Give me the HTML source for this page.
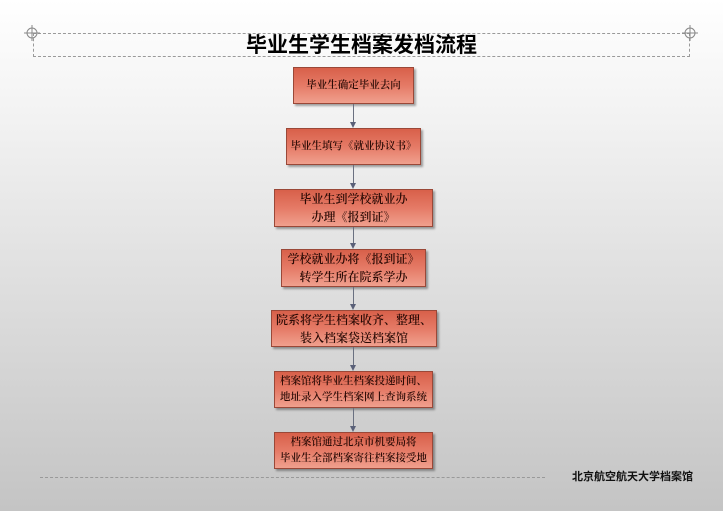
<!DOCTYPE html>
<html><head><meta charset="utf-8"><style>
*{margin:0;padding:0;box-sizing:border-box}
body{width:723px;height:511px;overflow:hidden;position:relative;
background:linear-gradient(to bottom,#ffffff 0%,#f4f4f4 20%,#dcdcdc 60%,#c4c4c4 100%);
font-family:"Liberation Serif","Noto Serif CJK SC","Noto Sans CJK SC",serif}
.b{position:absolute;display:flex;align-items:center;justify-content:center;text-align:center;
color:#2a0a05;line-height:1.5;white-space:nowrap;font-weight:600;
background:linear-gradient(to bottom,#d8604a 0%,#e57a66 50%,#f0a08e 100%);
border:1px solid #9a4838;box-shadow:2px 2px 2px rgba(0,0,0,.35)}
.s{font-size:10.5px}.m{font-size:12px}
.l{position:absolute;left:353px;width:1px;background:#6a7080}
.a{position:absolute;left:350px;width:0;height:0;border-left:3.5px solid transparent;border-right:3.5px solid transparent;border-top:6px solid #5a6078}
.t{position:absolute;left:33px;top:33px;width:657px;height:24px;border:1px dashed #9a9a9a;border-top:none}
.tl{position:absolute;left:33px;top:33px;width:657px;border-top:1px dashed #9a9a9a}
.title{position:absolute;left:0;width:723px;top:34px;text-align:center;font-family:"Liberation Sans","Noto Sans CJK SC",sans-serif;font-weight:bold;font-size:21px;line-height:24px;color:#000}
</style></head><body>
<div class="tl"></div><div class="t"></div>
<svg style="position:absolute;left:0;top:0" width="723" height="60">
<g stroke="#888" fill="none" stroke-width="1">
<circle cx="32" cy="33" r="5"/><line x1="24" y1="33" x2="40" y2="33"/><line x1="32" y1="25" x2="32" y2="41"/>
<circle cx="690" cy="33" r="5"/><line x1="682" y1="33" x2="698" y2="33"/><line x1="690" y1="25" x2="690" y2="41"/>
</g></svg>
<div class="title">毕业生学生档案发档流程</div>

<div class="b s" style="left:293px;top:67px;width:121px;height:37px">毕业生确定毕业去向</div>
<div class="l" style="top:104px;height:20px"></div><div class="a" style="top:122px"></div>
<div class="b s" style="left:286px;top:128px;width:135px;height:37px">毕业生填写《就业协议书》</div>
<div class="l" style="top:165px;height:20px"></div><div class="a" style="top:183px"></div>
<div class="b m" style="left:274px;top:189px;width:159px;height:38px">毕业生到学校就业办<br>办理《报到证》</div>
<div class="l" style="top:227px;height:18px"></div><div class="a" style="top:243px"></div>
<div class="b m" style="left:281px;top:249px;width:145px;height:38px">学校就业办将《报到证》<br>转学生所在院系学办</div>
<div class="l" style="top:287px;height:19px"></div><div class="a" style="top:304px"></div>
<div class="b m" style="left:271px;top:310px;width:166px;height:37px">院系将学生档案收齐、整理、<br>装入档案袋送档案馆</div>
<div class="l" style="top:347px;height:20px"></div><div class="a" style="top:365px"></div>
<div class="b s" style="left:274px;top:371px;width:159px;height:37px">档案馆将毕业生档案投递时间、<br>地址录入学生档案网上查询系统</div>
<div class="l" style="top:408px;height:20px"></div><div class="a" style="top:426px"></div>
<div class="b s" style="left:274px;top:432px;width:159px;height:37px">档案馆通过北京市机要局将<br>毕业生全部档案寄往档案接受地</div>

<div style="position:absolute;left:40px;top:477px;width:505px;border-top:1px dashed #999"></div>
<div style="position:absolute;left:572px;top:468px;font-family:'Liberation Sans','Noto Sans CJK SC',sans-serif;font-weight:bold;font-size:11px;color:#111">北京航空航天大学档案馆</div>
</body></html>
